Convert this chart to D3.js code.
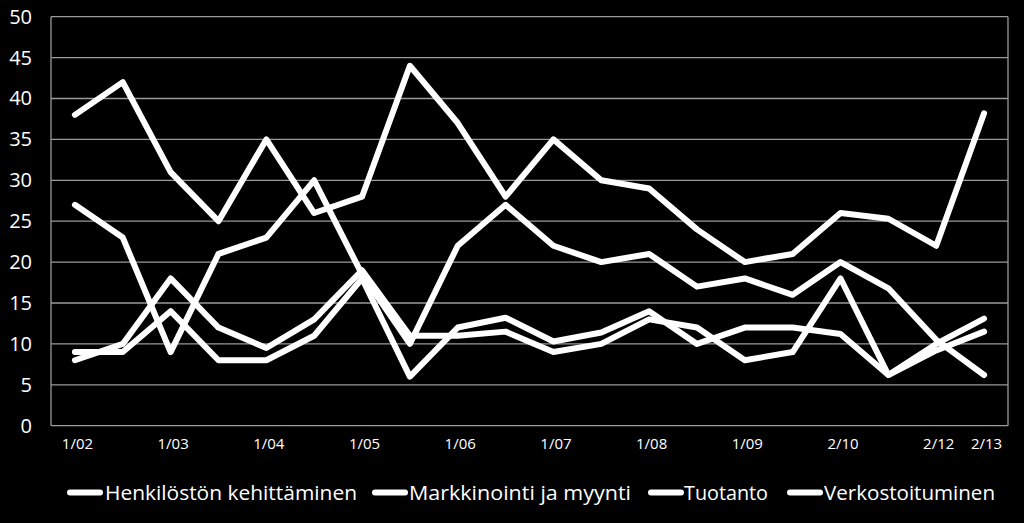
<!DOCTYPE html>
<html><head><meta charset="utf-8">
<script src="https://cdn.jsdelivr.net/npm/d3@7"></script>
<style>
html,body{margin:0;padding:0;background:#000;}
svg{display:block;}
</style>
</head><body>
<svg id="chart" width="1024" height="523"></svg>
<script>
const categories = ["1/02","","1/03","","1/04","","1/05","","1/06","","1/07","","1/08","","1/09","","2/10","","2/12","2/13"];
const seriesNames = ["Henkilöstön kehittäminen","Markkinointi ja myynti","Tuotanto","Verkostoituminen"];
const henkilosto = [38,42,31,25,35,26,28,44,37,28,35,30,29,24,20,21,26,25.3,22,38.2];
const markkinointi = [27,23,9,21,23,30,18.5,10,22,27,22,20,21,17,18,16,20,16.8,10.5,6.2];
const tuotanto = [8,10,18,12,9.5,13,19,11,11,11.5,9,10,13,12,8,9,18,6.2,9.2,11.5];
const verkosto = [9,9,14,8,8,11,18,6,12,13.2,10.3,11.4,14,10,12,12,11.2,6.2,10,13.1];
const yTicks = [0,5,10,15,20,25,30,35,40,45,50];

const seriesValues = [henkilosto, markkinointi, tuotanto, verkosto];
const svg = d3.select("#chart");
const mLeft = 51, mRight = 1008, mTop = 16.7, mBottom = 425.7;

const x = d3.scalePoint().domain(d3.range(categories.length)).range([mLeft, mRight]).padding(0.5);
const y = d3.scaleLinear().domain([0, 50]).range([mBottom, mTop]);

// grid
svg.append("g").selectAll("line").data(yTicks).join("line")
  .attr("x1", mLeft).attr("x2", mRight)
  .attr("y1", d => y(d)).attr("y2", d => y(d))
  .attr("stroke", "#9a9a9a").attr("stroke-width", 1.3);
// vertical frame
svg.append("line").attr("x1", mLeft).attr("x2", mLeft).attr("y1", y(50)).attr("y2", y(0)).attr("stroke", "#9a9a9a").attr("stroke-width", 1.3);
svg.append("line").attr("x1", mRight).attr("x2", mRight).attr("y1", y(50)).attr("y2", y(0)).attr("stroke", "#9a9a9a").attr("stroke-width", 1.3);

// y axis labels
const yAxis = d3.axisLeft(y).tickValues(yTicks).tickSize(0).tickPadding(0);
const yg = svg.append("g").attr("transform", `translate(32,0)`).call(yAxis);
yg.select(".domain").remove();
yg.selectAll("text").attr("fill", "#fff").attr("font-family", "'Open Sans', 'Noto Sans', sans-serif").attr("font-size", 20);

// x axis labels
const xAxis = d3.axisBottom(x).tickSize(0).tickPadding(0).tickFormat(i => categories[i]);
const xg = svg.append("g").attr("transform", `translate(2,${mBottom + 13})`).call(xAxis);
xg.select(".domain").remove();
xg.selectAll("text").attr("fill", "#fff").attr("font-family", "'Open Sans', 'Noto Sans', sans-serif").attr("font-size", 15);

// lines
const line = d3.line().x((d, i) => x(i)).y(d => y(d));
svg.append("g").selectAll("path").data(seriesValues).join("path")
  .attr("d", d => line(d))
  .attr("fill", "none").attr("stroke", "#fff").attr("stroke-width", 6)
  .attr("stroke-linejoin", "round").attr("stroke-linecap", "round");

// legend
const legendItems = [
  {sym: 70, tx: 105, w: 252},
  {sym: 375, tx: 409, w: 222},
  {sym: 651, tx: 684, w: 84},
  {sym: 790, tx: 824, w: 171}
];
const lg = svg.append("g");
seriesNames.forEach((name, i) => {
  const it = legendItems[i];
  lg.append("line").attr("x1", it.sym).attr("x2", it.sym + 30).attr("y1", 492.5).attr("y2", 492.5)
    .attr("stroke", "#fff").attr("stroke-width", 6).attr("stroke-linecap", "round");
  lg.append("text").attr("x", it.tx).attr("y", 492.5).attr("dy", "0.35em")
    .attr("fill", "#fff").attr("font-family", "'Open Sans', 'Noto Sans', sans-serif")
    .attr("font-size", 20)
    .attr("textLength", it.w).attr("lengthAdjust", "spacingAndGlyphs")
    .text(name);
});
</script>
</body></html>
